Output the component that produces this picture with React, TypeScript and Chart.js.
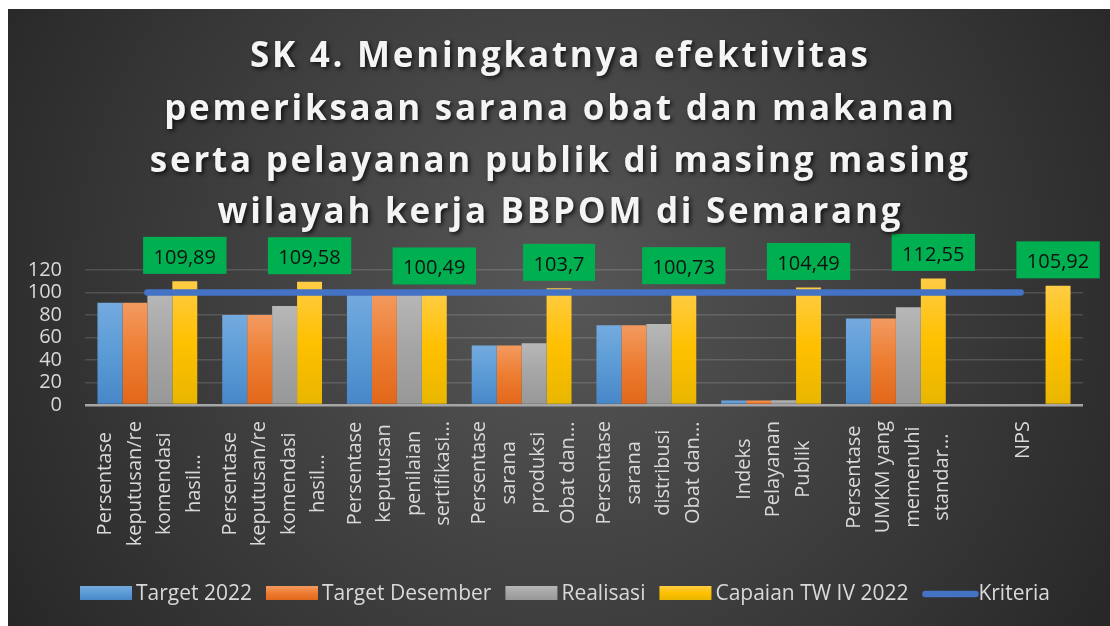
import React, { useEffect, useRef } from "react";
import { Chart, registerables } from "chart.js";

Chart.register(...registerables);

const TITLE_LINES = [
  "SK 4. Meningkatnya efektivitas",
  "pemeriksaan sarana obat dan makanan",
  "serta pelayanan publik di masing masing",
  "wilayah kerja BBPOM di Semarang",
];

const CATEGORIES: string[][] = [
  ["Persentase", "keputusan/re", "komendasi", "hasil..."],
  ["Persentase", "keputusan/re", "komendasi", "hasil..."],
  ["Persentase", "keputusan", "penilaian", "sertifikasi..."],
  ["Persentase", "sarana", "produksi", "Obat dan..."],
  ["Persentase", "sarana", "distribusi", "Obat dan..."],
  ["Indeks", "Pelayanan", "Publik"],
  ["Persentase", "UMKM yang", "memenuhi", "standar..."],
  ["NPS"],
];

const SERIES_NAMES = ["Target 2022", "Target Desember", "Realisasi", "Capaian TW IV 2022", "Kriteria"];

const TARGET_2022: (number | null)[] = [91, 80, 100, 53, 71, 4, 77, null];
const TARGET_DESEMBER: (number | null)[] = [91, 80, 100, 53, 71, 4, 77, null];
const REALISASI: (number | null)[] = [100, 88, 100, 55, 72, 4.2, 87, null];
const CAPAIAN: number[] = [109.89, 109.58, 100.49, 103.7, 100.73, 104.49, 112.55, 105.92];
const CAPAIAN_LABELS = ["109,89", "109,58", "100,49", "103,7", "100,73", "104,49", "112,55", "105,92"];
const KRITERIA: number[] = [100, 100, 100, 100, 100, 100, 100, 100];

const Y_MIN = 0;
const Y_MAX = 120;
const Y_STEP = 20;

const BLUE = ["#74aadf", "#5b9bd5", "#4787c8"];
const ORANGE = ["#f39a60", "#ed7d31", "#e2671a"];
const GRAY = ["#b7b7b7", "#a5a5a5", "#989898"];
const YELLOW = ["#ffcc45", "#ffc000", "#e8b600"];
const LINE_BLUE = "#4472C4";

const FONT = '"Open Sans", "Noto Sans", sans-serif';

function barGrad(stops: string[]) {
  return (c: any) => {
    const chart = c.chart;
    const ys = chart.scales && chart.scales.y;
    if (!ys || c.type !== "data" || c.raw == null) return stops[1];
    const top = ys.getPixelForValue(c.raw);
    const bottom = ys.getPixelForValue(0);
    if (!isFinite(top) || !isFinite(bottom) || bottom - top < 1) return stops[1];
    const g = chart.ctx.createLinearGradient(0, top, 0, bottom);
    g.addColorStop(0, stops[0]);
    g.addColorStop(0.5, stops[1]);
    g.addColorStop(1, stops[2]);
    return g;
  };
}

const bgPlugin = {
  id: "bgPlugin",
  beforeDraw(chart: any) {
    const { ctx, width, height } = chart;
    ctx.save();
    const g = ctx.createRadialGradient(width / 2, 280, 0, width / 2, 280, 660);
    g.addColorStop(0, "#575757");
    g.addColorStop(1, "#262626");
    ctx.fillStyle = g;
    ctx.fillRect(0, 0, width, height);
    ctx.restore();
  },
};

const titlePlugin = {
  id: "titlePlugin",
  afterDraw(chart: any) {
    const { ctx, width } = chart;
    ctx.save();
    ctx.font = `bold 35px ${FONT}`;
    (ctx as any).letterSpacing = "0px";
    const w3 = ctx.measureText(TITLE_LINES[2]).width;
    const ls = Math.max(0, (821 - w3) / TITLE_LINES[2].length);
    (ctx as any).letterSpacing = ls + "px";
    ctx.textAlign = "center";
    ctx.textBaseline = "alphabetic";
    ctx.fillStyle = "#f4f4f4";
    ctx.shadowColor = "rgba(0,0,0,0.75)";
    ctx.shadowBlur = 4;
    ctx.shadowOffsetX = 2;
    ctx.shadowOffsetY = 2;
    const baselines = [58, 111, 163, 214];
    TITLE_LINES.forEach((t, i) => {
      ctx.fillText(t, width / 2 + ls / 2, baselines[i]);
    });
    ctx.restore();
  },
};

const xLabelPlugin = {
  id: "xLabelPlugin",
  afterDraw(chart: any) {
    const { ctx } = chart;
    const xs = chart.scales.x;
    ctx.save();
    ctx.font = `20px ${FONT}`;
    ctx.fillStyle = "#d9d9d9";
    ctx.textAlign = "center";
    ctx.textBaseline = "alphabetic";
    CATEGORIES.forEach((lines, i) => {
      const cx = xs.getPixelForValue(i);
      const maxW = Math.max(...lines.map((l) => ctx.measureText(l).width));
      const cy = 412 + maxW / 2;
      lines.forEach((l, j) => {
        const x = cx + (j - (lines.length - 1) / 2) * 29.5 + 8;
        ctx.save();
        ctx.translate(x, cy);
        ctx.rotate(-Math.PI / 2);
        ctx.fillText(l, 0, 0);
        ctx.restore();
      });
    });
    ctx.restore();
  },
};

const dataLabelPlugin = {
  id: "dataLabelPlugin",
  afterDatasetsDraw(chart: any) {
    const { ctx } = chart;
    const idx = chart.data.datasets.findIndex((d: any) => d.label === SERIES_NAMES[3]);
    const meta = chart.getDatasetMeta(idx);
    ctx.save();
    ctx.font = `20px ${FONT}`;
    ctx.textAlign = "center";
    ctx.textBaseline = "alphabetic";
    meta.data.forEach((el: any, i: number) => {
      const text = CAPAIAN_LABELS[i];
      const tw = ctx.measureText(text).width;
      const w = tw + 21;
      const h = 37;
      const bottom = el.y - 7.5;
      ctx.fillStyle = "#00b050";
      ctx.fillRect(el.x - w / 2, bottom - h, w, h);
      ctx.fillStyle = "#111111";
      ctx.fillText(text, el.x, bottom - 10);
    });
    ctx.restore();
  },
};

const legendPlugin = {
  id: "legendPlugin",
  afterDraw(chart: any) {
    const { ctx } = chart;
    const items = [
      { label: SERIES_NAMES[0], stops: BLUE, kind: "box" },
      { label: SERIES_NAMES[1], stops: ORANGE, kind: "box" },
      { label: SERIES_NAMES[2], stops: GRAY, kind: "box" },
      { label: SERIES_NAMES[3], stops: YELLOW, kind: "box" },
      { label: SERIES_NAMES[4], stops: [LINE_BLUE], kind: "line" },
    ];
    ctx.save();
    ctx.font = `21px ${FONT}`;
    const sw = 52;
    const gapT = 4;
    const gapI = 14;
    const widths = items.map((it) => ctx.measureText(it.label).width);
    const total = widths.reduce((a, w) => a + sw + gapT + w, 0) + gapI * (items.length - 1);
    let x = 557 - total / 2;
    const cy = 584;
    items.forEach((it, i) => {
      if (it.kind === "box") {
        const g = ctx.createLinearGradient(0, cy - 7, 0, cy + 7);
        g.addColorStop(0, it.stops[0]);
        g.addColorStop(0.5, it.stops[1]);
        g.addColorStop(1, it.stops[2]);
        ctx.fillStyle = g;
        ctx.fillRect(x, cy - 7, sw, 14);
      } else {
        ctx.strokeStyle = it.stops[0];
        ctx.lineWidth = 6.5;
        ctx.lineCap = "round";
        ctx.beginPath();
        ctx.moveTo(x + 3, cy + 1);
        ctx.lineTo(x + sw + 1, cy + 1);
        ctx.stroke();
      }
      ctx.fillStyle = "#d9d9d9";
      ctx.textAlign = "left";
      ctx.textBaseline = "alphabetic";
      ctx.fillText(it.label, x + sw + gapT, cy + 7);
      x += sw + gapT + widths[i] + gapI;
    });
    ctx.restore();
  },
};

export default function App() {
  const canvasRef = useRef<HTMLCanvasElement | null>(null);

  useEffect(() => {
    const canvas = canvasRef.current;
    if (!canvas) return;
    const chart = new Chart(canvas, {
      type: "bar",
      data: {
        labels: CATEGORIES.map((c) => c.join(" ")),
        datasets: [
          {
            type: "line",
            label: SERIES_NAMES[4],
            data: KRITERIA,
            borderColor: LINE_BLUE,
            backgroundColor: LINE_BLUE,
            borderWidth: 6.5,
            borderCapStyle: "round",
            pointRadius: 0,
            pointHoverRadius: 0,
            fill: false,
            order: 0,
          } as any,
          {
            label: SERIES_NAMES[0],
            data: TARGET_2022,
            backgroundColor: barGrad(BLUE),
            order: 1,
          },
          {
            label: SERIES_NAMES[1],
            data: TARGET_DESEMBER,
            backgroundColor: barGrad(ORANGE),
            order: 1,
          },
          {
            label: SERIES_NAMES[2],
            data: REALISASI,
            backgroundColor: barGrad(GRAY),
            order: 1,
          },
          {
            label: SERIES_NAMES[3],
            data: CAPAIAN,
            backgroundColor: barGrad(YELLOW),
            order: 1,
          },
        ],
      },
      options: {
        responsive: false,
        animation: false,
        events: [],
        datasets: {
          bar: { categoryPercentage: 0.8, barPercentage: 1.0 },
        },
        layout: { padding: { top: 261, right: 27, left: 0, bottom: 0 } },
        plugins: {
          legend: { display: false },
          title: { display: false },
          tooltip: { enabled: false },
        },
        scales: {
          x: {
            grid: { display: false },
            border: { display: false },
            ticks: { display: false },
            afterFit(scale: any) {
              scale.height = 221;
            },
          },
          y: {
            min: Y_MIN,
            max: Y_MAX,
            ticks: {
              stepSize: Y_STEP,
              autoSkip: false,
              color: "#d9d9d9",
              font: { family: FONT, size: 20 },
              padding: 23,
            },
            grid: {
              drawTicks: false,
              color: (c: any) => (c.tick && c.tick.value === 0 ? "#a6a6a6" : "rgba(255,255,255,0.14)"),
              lineWidth: (c: any) => (c.tick && c.tick.value === 0 ? 2.5 : 1.5),
            },
            border: { display: false },
            afterFit(scale: any) {
              scale.width = 77;
            },
          },
        },
      },
      plugins: [bgPlugin, dataLabelPlugin, titlePlugin, xLabelPlugin, legendPlugin],
    });
    return () => chart.destroy();
  }, []);

  return (
    <div style={{ position: "fixed", left: 8, top: 9, width: 1102, height: 617 }}>
      <canvas ref={canvasRef} width={1102} height={617} style={{ display: "block" }} />
    </div>
  );
}
